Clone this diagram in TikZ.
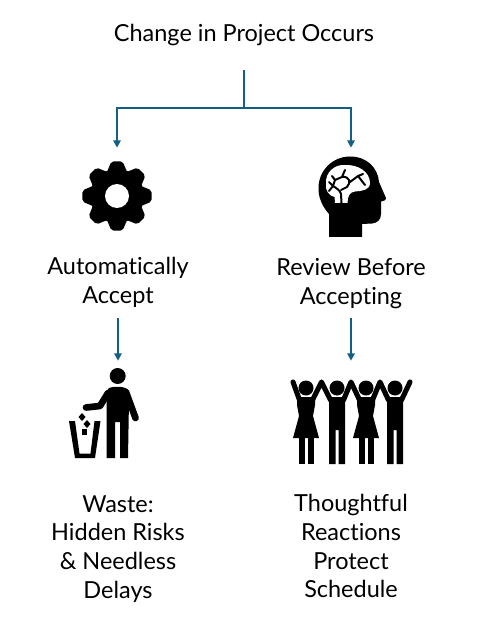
\documentclass[tikz,border=0pt]{standalone}
\usepackage{fontspec}
\setmainfont[Ligatures=NoCommon]{Lato}
\usepackage{tikz}
\usetikzlibrary{arrows.meta,positioning}
\definecolor{flowblue}{RGB}{21,96,130}
\tikzset{
  label/.style={align=center,inner sep=0pt,font=\fontsize{17.6}{21.7}\selectfont,text=black},
  hub/.style={inner sep=0pt,minimum width=52pt},
  flow/.style={line width=1.5pt,flowblue},
  arrow/.style={flow,-{Triangle[width=5.5pt,length=5.5pt]}},
  limb/.style={line width=3.8pt,black,line cap=round,line join=round},
  vein/.style={line width=1.5pt,black,line cap=round,line join=round},
  dressfig/.pic={
    \fill[black] (0,-11) circle (7.5);
    \fill[black] (-9,-2) -- (9,-2) -- (9,6) -- (7,17) -- (13,39) -- (-13,39) -- (-7,17) -- (-9,6) -- cycle;
    \fill[black] (-7.5,39) rectangle (-1.2,65);
    \fill[black] (1.5,39) rectangle (7.8,65);
  },
  trouserfig/.pic={
    \fill[black] (0,-11) circle (7.5);
    \fill[black] (-8,-2) -- (8,-2) -- (8,65) -- (1.5,65) -- (1.5,31) -- (-1.5,31) -- (-1.5,65) -- (-8,65) -- cycle;
  }
}
\begin{document}
\begin{tikzpicture}[x=0.75pt,y=-0.75pt]
  \useasboundingbox (0,0) rectangle (482,623);

  % text blocks
  \node[label] (change) at (244,35) {Change in Project Occurs};
  \node[label,minimum height=55.5pt] (accept) at (118,282.5) {Automatically\\Accept};
  \node[label,minimum height=55.5pt] (review) at (351,283.5) {Review Before\\Accepting};
  \node[label] (waste) at (118,549) {Waste:\\Hidden Risks\\\& Needless\\Delays};
  \node[label] (protect) at (351,546) {Thoughtful\\Reactions\\Protect\\Schedule};

  % anchors for the connectors
  \coordinate (top) at (244,70);
  \coordinate (split) at (244,108);
  \node[hub,minimum height=72pt] (gearicon) at (117,196) {};
  \node[hub,minimum height=72pt] (headicon) at (351,196) {};
  \node[hub,minimum height=75pt] (binicon) at (118,411) {};
  \node[hub,minimum height=75pt] (crowdicon) at (351,411) {};

  % connectors
  \draw[flow] (top) -- (split);
  \draw[arrow] (split) -| (gearicon.north);
  \draw[arrow] (split) -| (headicon.north);
  \draw[arrow] (accept.south |- 0,318) -- (binicon.north);
  \draw[arrow] (review.south |- 0,318) -- (crowdicon.north);

  % gear
  \fill[black] (gearicon.center) circle (27);
  \foreach \a in {0,45,...,315}
    \fill[black,rotate around={\a:(gearicon.center)},rounded corners=1.5pt]
      ([xshift=-8pt,yshift=17pt]gearicon.center) -- ([xshift=-4.2pt,yshift=25.9pt]gearicon.center)
      -- ([xshift=4.2pt,yshift=25.9pt]gearicon.center) -- ([xshift=8pt,yshift=17pt]gearicon.center) -- cycle;
  \fill[white] (gearicon.center) circle (12);

  % head with brain
  \fill[black] (329,237) -- (329,214) .. controls (322,206) and (318,197) .. (318.5,187)
    .. controls (319,170) and (333,156.5) .. (350,156.5)
    .. controls (367,156.5) and (378,168) .. (379,182)
    -- (386,198) .. controls (386.5,200) and (385,200.5) .. (381,201.5)
    -- (381,214) .. controls (381,220) and (377,223) .. (372,223.5)
    -- (362,224) -- (362,237) -- cycle;
  \fill[white] (335,203) -- (334.5,197) .. controls (329,196) and (325,190) .. (326,184)
    .. controls (325,172) and (335,164.5) .. (344,165)
    .. controls (358,164) and (370,172) .. (370,183)
    .. controls (370,190) and (362,191) .. (355,191.5)
    .. controls (350,192) and (347.5,196) .. (347.5,203) -- cycle;
  \draw[vein] (341.5,203) -- (341,194) .. controls (340,190) and (336,188) .. (333,186);
  \draw[vein] (333,186) -- (329,182) (333,186) -- (335,180) -- (332,176) (335,180) -- (342,177) -- (345,170)
    (342,177) .. controls (350,176) and (351,183) .. (347,187) -- (341,190)
    (350,182) -- (358,176) -- (363,174) (358,176) -- (365,185) (333,186) -- (329,191);

  % person and bin
  \fill[black] (117.7,376) circle (8);
  \fill[black] (108,389) .. controls (110,386) and (124,386) .. (127,389)
    -- (129,400) -- (128,458) -- (120,458) -- (120,422) -- (115,422) -- (115,458) -- (106.5,458) -- (106.5,404)
    -- cycle;
  \draw[limb,line width=5pt] (126,392) -- (135.5,418);
  \draw[limb,line width=5pt] (108,393) -- (100,406) -- (86,407.5);
  \fill[black] (69,421) -- (75,421) -- (79.5,453.5) -- (90.5,453.5) -- (94.5,421) -- (100.5,421) -- (95,458) -- (75,458) -- cycle;
  \fill[black] (82,413) -- (85.5,417) -- (82,421) -- (78.5,417) -- cycle;
  \fill[black] (87,420) -- (90.5,424) -- (87,428) -- (83.5,424) -- cycle;
  \fill[black] (81.5,429) rectangle (87,434.5);

  % four people holding hands up
  \path (306,399) pic {dressfig} (337,399) pic {trouserfig}
    (366,399) pic {dressfig} (395,399) pic {trouserfig};
  \draw[limb] (299.5,400) -- (293,382);
  \draw[limb] (312.5,400) -- (321.5,382) -- (330.5,400);
  \draw[limb] (343.5,400) -- (351,382) -- (359.5,400);
  \draw[limb] (372.5,400) -- (380,382) -- (388.5,400);
  \draw[limb] (401.5,400) -- (410,382);
\end{tikzpicture}
\end{document}
